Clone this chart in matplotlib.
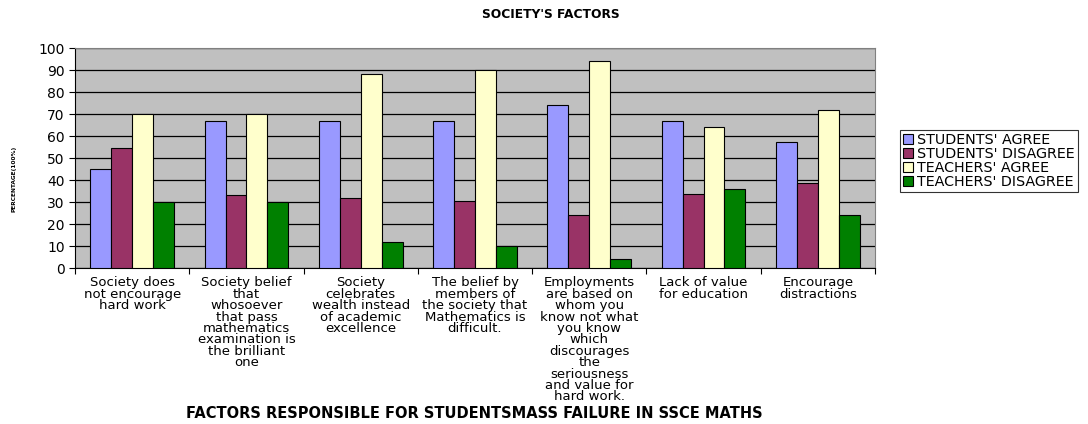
import numpy as np
import matplotlib
matplotlib.use("Agg")
import matplotlib.pyplot as plt

# category labels (wrapped as in the original)
categories = [
    "Society does\nnot encourage\nhard work",
    "Society belief\nthat\nwhosoever\nthat pass\nmathematics\nexamination is\nthe brilliant\none",
    "Society\ncelebrates\nwealth instead\nof academic\nexcellence",
    "The belief by\nmembers of\nthe society that\nMathematics is\ndifficult.",
    "Employments\nare based on\nwhom you\nknow not what\nyou know\nwhich\ndiscourages\nthe\nseriousness\nand value for\nhard work.",
    "Lack of value\nfor education",
    "Encourage\ndistractions",
]

students_agree = [45, 66.7, 67, 66.7, 74, 66.7, 57.5]
students_disagree = [54.5, 33.3, 32, 30.6, 24.2, 33.5, 38.7]
teachers_agree = [70, 70, 88, 90, 94, 64, 72]
teachers_disagree = [30, 30, 12, 10, 4, 36, 24]

series_names = ["STUDENTS' AGREE", "STUDENTS' DISAGREE", "TEACHERS' AGREE", "TEACHERS' DISAGREE"]
colors = ["#9999FF", "#993366", "#FFFFCC", "#008000"]

plt.rcParams['font.family'] = ['DejaVu Sans']

fig = plt.figure(figsize=(10.88, 4.24), dpi=100)
ax = fig.add_axes([75 / 1088, 1 - 268 / 424, 800 / 1088, 220 / 424])
ax.set_facecolor("#C0C0C0")

x = np.arange(len(categories))
w = 0.183
all_series = [students_agree, students_disagree, teachers_agree, teachers_disagree]
for i, vals in enumerate(all_series):
    ax.bar(x + (i - 1.5) * w, vals, width=w, color=colors[i], edgecolor="black",
           linewidth=0.8, label=series_names[i], zorder=3)

ax.set_xlim(-0.5, len(categories) - 0.5)
ax.set_ylim(0, 100)
ax.set_yticks(np.arange(0, 101, 10))
ax.yaxis.grid(True, color="black", linewidth=0.9, zorder=1)
ax.set_axisbelow(True)

# ticks on category boundaries, labels in the middle
ax.set_xticks(np.arange(len(categories) + 1) - 0.5)
ax.set_xticklabels([])
ax.set_xticks(x, minor=True)
ax.set_xticklabels(categories, minor=True, fontsize=9.5, va="top", linespacing=0.84)
ax.tick_params(axis="x", which="minor", length=0, pad=6)
ax.tick_params(axis="x", which="major", length=4, direction="out")
ax.tick_params(axis="y", labelsize=10, length=4, direction="out")

for side in ["top", "right"]:
    ax.spines[side].set_color("#808080")
ax.spines["left"].set_color("black")
ax.spines["bottom"].set_color("black")

fig.text(551 / 1088, 1 - 15 / 424, "SOCIETY'S FACTORS", ha="center", va="center",
         fontsize=8.8, fontweight="bold")
fig.text(474 / 1088, 1 - 413 / 424, "FACTORS RESPONSIBLE FOR STUDENTSMASS FAILURE IN SSCE MATHS",
         ha="center", va="center", fontsize=10.5, fontweight="bold")
fig.text(14 / 1088, 1 - 179 / 424, "PERCENTAGE(100%)", rotation=90, ha="center", va="center",
         fontsize=4.2, fontweight="bold")

leg = fig.legend(loc="upper left", bbox_to_anchor=(900 / 1088, 1 - 130 / 424), fontsize=10.3,
                 frameon=True, fancybox=False, edgecolor="black", handlelength=0.7,
                 handleheight=0.7, handletextpad=0.3, borderpad=0.2, labelspacing=0.0,
                 borderaxespad=0)
leg.get_frame().set_linewidth(0.8)

fig.savefig("out.png", dpi=100)
